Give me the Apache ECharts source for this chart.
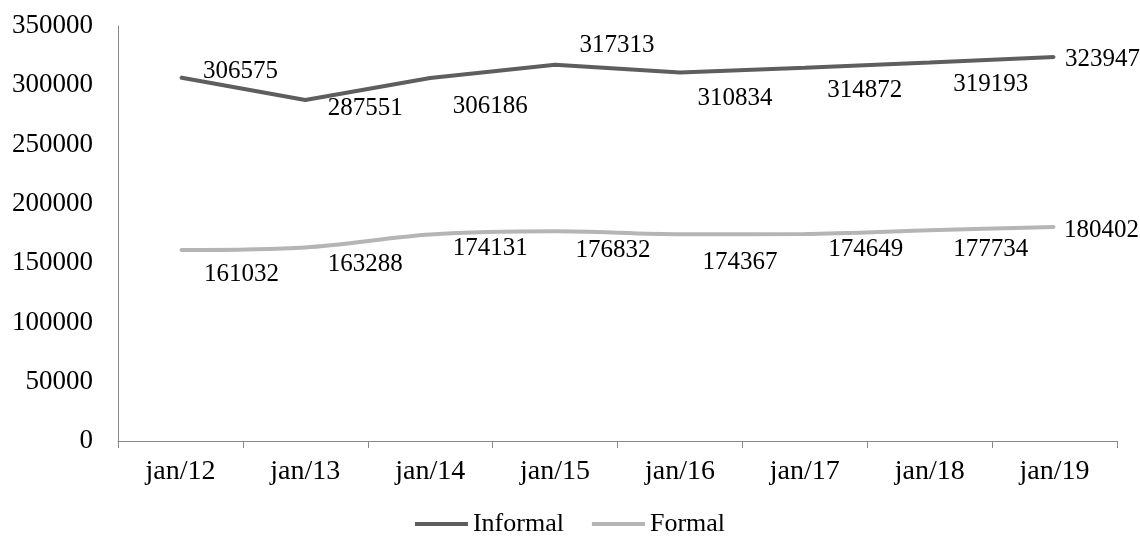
<!DOCTYPE html>
<html>
<head>
<meta charset="utf-8">
<script src="https://cdn.jsdelivr.net/npm/echarts@6/dist/echarts.min.js"></script>
<style>
  html, body { margin: 0; padding: 0; background: #fff; }
  #chart { width: 1140px; height: 539px; }
</style>
</head>
<body>
<div id="chart"></div>
<script>
// Monthly snapshot (January of each year)
const categories = ['jan/12', 'jan/13', 'jan/14', 'jan/15', 'jan/16', 'jan/17', 'jan/18', 'jan/19'];
const informal = [306575, 287551, 306186, 317313, 310834, 314872, 319193, 323947];
const formal = [161032, 163288, 174131, 176832, 174367, 174649, 177734, 180402];
const yTicks = { min: 0, max: 350000, interval: 50000 };

// Per-point nudges of the value labels (pixels, relative to the point)
const informalLabelShift = [[60, -6], [60, 8], [60, 28], [62, -19], [55, 26], [60, 23], [61, 22], [48, 3]];
const formalLabelShift = [[61, 24], [60, 17], [60, 14], [58, 19], [60, 28], [61, 16], [61, 19], [47, 3]];

const FONT = '"Liberation Serif", "DejaVu Serif", serif';
const INFORMAL_COLOR = '#5e5e5e';
const FORMAL_COLOR = '#b5b5b5';

function withLabels(values, shifts) {
  return values.map((v, i) => ({ value: v, label: { offset: shifts[i] } }));
}

const labelStyle = {
  show: true,
  position: 'inside',
  color: '#000',
  fontFamily: FONT,
  fontSize: 25
};

const chart = echarts.init(document.getElementById('chart'), null, { renderer: 'canvas' });
chart.setOption({
  animation: false,
  backgroundColor: '#fff',
  grid: { left: 118, right: 23, top: 26, bottom: 98, containLabel: false },
  legend: {
    top: 506,
    left: 'center',
    icon: 'rect',
    itemWidth: 53,
    itemHeight: 4,
    itemGap: 28,
    textStyle: { fontFamily: FONT, fontSize: 26, color: '#000' },
    data: [
      { name: 'Informal', itemStyle: { color: INFORMAL_COLOR } },
      { name: 'Formal', itemStyle: { color: FORMAL_COLOR } }
    ]
  },
  xAxis: {
    type: 'category',
    data: categories,
    boundaryGap: true,
    axisLine: { lineStyle: { color: '#888', width: 1 } },
    axisTick: { show: true, alignWithLabel: false, length: 7, lineStyle: { color: '#888' } },
    axisLabel: { color: '#000', fontFamily: FONT, fontSize: 28, margin: 17 },
    splitLine: { show: false }
  },
  yAxis: {
    type: 'value',
    min: yTicks.min,
    max: yTicks.max,
    interval: yTicks.interval,
    axisLine: { show: true, lineStyle: { color: '#888', width: 1 } },
    axisTick: { show: false },
    axisLabel: {
      color: '#000', fontFamily: FONT, fontSize: 27, margin: 25,
      formatter: (v) => String(v)
    },
    splitLine: { show: false }
  },
  series: [
    {
      name: 'Informal',
      type: 'line',
      data: withLabels(informal, informalLabelShift),
      symbol: 'circle',
      symbolSize: 2,
      showSymbol: true,
      itemStyle: { color: INFORMAL_COLOR },
      lineStyle: { color: INFORMAL_COLOR, width: 4 },
      label: labelStyle
    },
    {
      name: 'Formal',
      type: 'line',
      data: withLabels(formal, formalLabelShift),
      smooth: 0.3,
      symbol: 'circle',
      symbolSize: 2,
      showSymbol: true,
      itemStyle: { color: FORMAL_COLOR },
      lineStyle: { color: FORMAL_COLOR, width: 4 },
      label: labelStyle
    }
  ]
});
</script>
</body>
</html>
